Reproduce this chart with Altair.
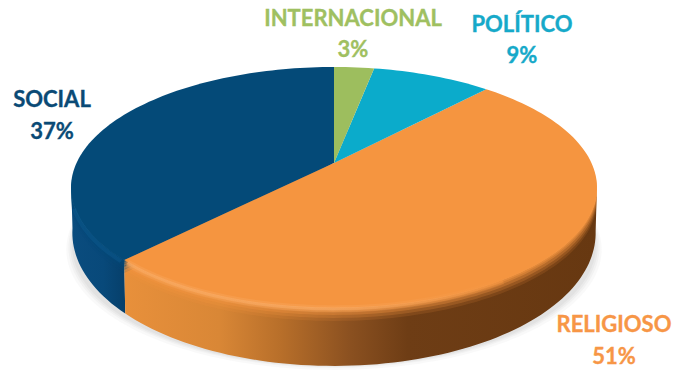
import math
import altair as alt
import pandas as pd

# ---- data ----
CATEGORIES = ["INTERNACIONAL", "POLÍTICO", "RELIGIOSO", "SOCIAL"]
SHARES = [3, 9, 51, 37]
FACE_COLORS = ["#9DBE5E", "#0BABCB", "#F59540", "#044A78"]
TEXT_COLORS = ["#9FC061", "#16A9C9", "#F79646", "#0A4A75"]

# ---- layout ----
W, H = 664, 362
APEX_X, APEX_Y = 326, 155      # pie centre inside the plot area
RX, RY = 257.5, 115.5          # pixels per unit of the tilted disc
K = 0.203                      # perspective strength
WARP = 3.2                     # slight view-angle warp of the 3D rendering, degrees
LABEL_POS = {"INTERNACIONAL": (345, 11, 42), "POLÍTICO": (514, 17, 48),
             "RELIGIOSO": (606, 317, 349), "SOCIAL": (44, 92, 124)}

xscale = alt.Scale(domain=[-APEX_X / RX, (W - APEX_X) / RX], range=[0, W], nice=False, zero=False)
yscale = alt.Scale(domain=[-(H - APEX_Y) / RY, APEX_Y / RY], range=[H, 0], nice=False, zero=False)


def uv(deg):
    deg = deg - WARP * math.sin(math.radians(deg / 2)) ** 2
    t = math.radians(deg)
    return math.sin(t), math.cos(t)


def pt(deg, shift=0.0, sx=1.0):
    u, v = uv(deg)
    d = 1 + K * v
    return u / d * sx, v / d - shift / RY


def base_pt(deg):
    # lower edge of the wall: taller towards the viewer
    u, v = uv(deg)
    return pt(deg, 42 + 16 * max(-v, 0), 0.995)


def arc(a0, a1, shift=0.0, sx=1.0, step=1.5):
    n = max(2, int(abs(a1 - a0) / step))
    return [pt(a0 + (a1 - a0) * i / n, shift, sx) for i in range(n + 1)]


def base_arc(a0, a1, step=1.5):
    n = max(2, int(abs(a1 - a0) / step))
    return [base_pt(a0 + (a1 - a0) * i / n) for i in range(n + 1)]


def poly(points, mark):
    df = pd.DataFrame({"x": [p[0] for p in points], "y": [p[1] for p in points],
                       "i": range(len(points))})
    return alt.Chart(df).mark_line(clip=False, **mark).encode(
        x=alt.X("x:Q", scale=xscale, axis=None),
        y=alt.Y("y:Q", scale=yscale, axis=None),
        order=alt.Order("i:Q"),
    )


def grad(stops):
    return alt.Gradient(gradient="linear", x1=0, x2=1, y1=0, y2=0,
                        stops=[alt.GradientStop(offset=o, color=c) for o, c in stops])


# cumulative angles
edges = [0]
for s in SHARES:
    edges.append(edges[-1] + s * 3.6)
wedge = {c: (edges[i], edges[i + 1]) for i, c in enumerate(CATEGORIES)}
color = dict(zip(CATEGORIES, FACE_COLORS))

layers = []

# soft shadow under the disc
for grow, off, op in [(1.028, 62, .05), (1.02, 60, .06), (1.013, 59, .07), (1.006, 58, .08)]:
    pts = arc(0, 360, off, 0.99 * grow)
    layers.append(poly(pts, dict(fill="#8a8a8a", fillOpacity=op, strokeWidth=0)))

# walls
r0, r1 = wedge["RELIGIOSO"]
s0, s1 = wedge["SOCIAL"]
blue_wall = arc(s0, 262) + base_arc(262, s0)
orange_wall = arc(r1, 103) + base_arc(103, r1)
layers.append(poly(blue_wall, dict(strokeWidth=0, fill=grad(
    [(0, "#0A4C7E"), (0.6, "#08497A"), (1, "#063F6A")]))))
layers.append(poly(orange_wall, dict(strokeWidth=0, fill=grad(
    [(0, "#E8903B"), (0.2, "#D98736"), (0.33, "#B86F2A"), (0.48, "#8A5020"),
     (0.6, "#6E3D15"), (1, "#673811")]))))

# blurred bevel from the face onto the wall
for shift, op in [(13, .14), (10, .22), (7, .32), (4, .42), (2, .5)]:
    layers.append(poly([(0, -shift / RY)] + arc(s0, 305, shift) + [(0, -shift / RY)],
                       dict(fill=color["SOCIAL"], fillOpacity=op, strokeWidth=0)))
    layers.append(poly([(0, -shift / RY)] + arc(r0 + 5, r1, shift) + [(0, -shift / RY)],
                       dict(fill=color["RELIGIOSO"], fillOpacity=op, strokeWidth=0)))

# top faces
for c in ["SOCIAL", "RELIGIOSO", "POLÍTICO", "INTERNACIONAL"]:
    a0, a1 = wedge[c]
    pts = [(0, 0)] + arc(a0, a1) + [(0, 0)]
    layers.append(poly(pts, dict(fill=color[c], strokeWidth=0)))

# highlights along the front rim
hl = grad([(0, "#FBB473"), (0.55, "#FBB473"), (1, "#F59540")])
layers.append(poly(arc(r1 - 1, 150, 1), dict(strokeWidth=7, strokeOpacity=.22, stroke=hl)))
layers.append(poly(arc(r1 - 1, 150, 1), dict(strokeWidth=3, strokeOpacity=.4, stroke=hl)))
layers.append(poly(arc(s0 + 1, 252, 3), dict(strokeWidth=4, strokeOpacity=.3, stroke="#14649A")))

# labels
for c, s, col in zip(CATEGORIES, SHARES, TEXT_COLORS):
    lx, y1, y2 = LABEL_POS[c]
    for txt, yy in ((c, y1), (f"{s}%", y2)):
        layers.append(
            alt.Chart(pd.DataFrame({"t": [txt]})).mark_text(
                font="Lato", fontSize=22, fontWeight="bold", color=col,
                align="center", baseline="middle", stroke=col, strokeWidth=0.35,
            ).encode(text="t:N", x=alt.value(lx), y=alt.value(yy))
        )

chart = alt.layer(*layers).properties(
    width=W, height=H, padding=0,
    autosize=alt.AutoSizeParams(type="none"),
).configure_view(stroke=None)

chart.save("out.html", embed_options={"renderer": "svg", "actions": False})
